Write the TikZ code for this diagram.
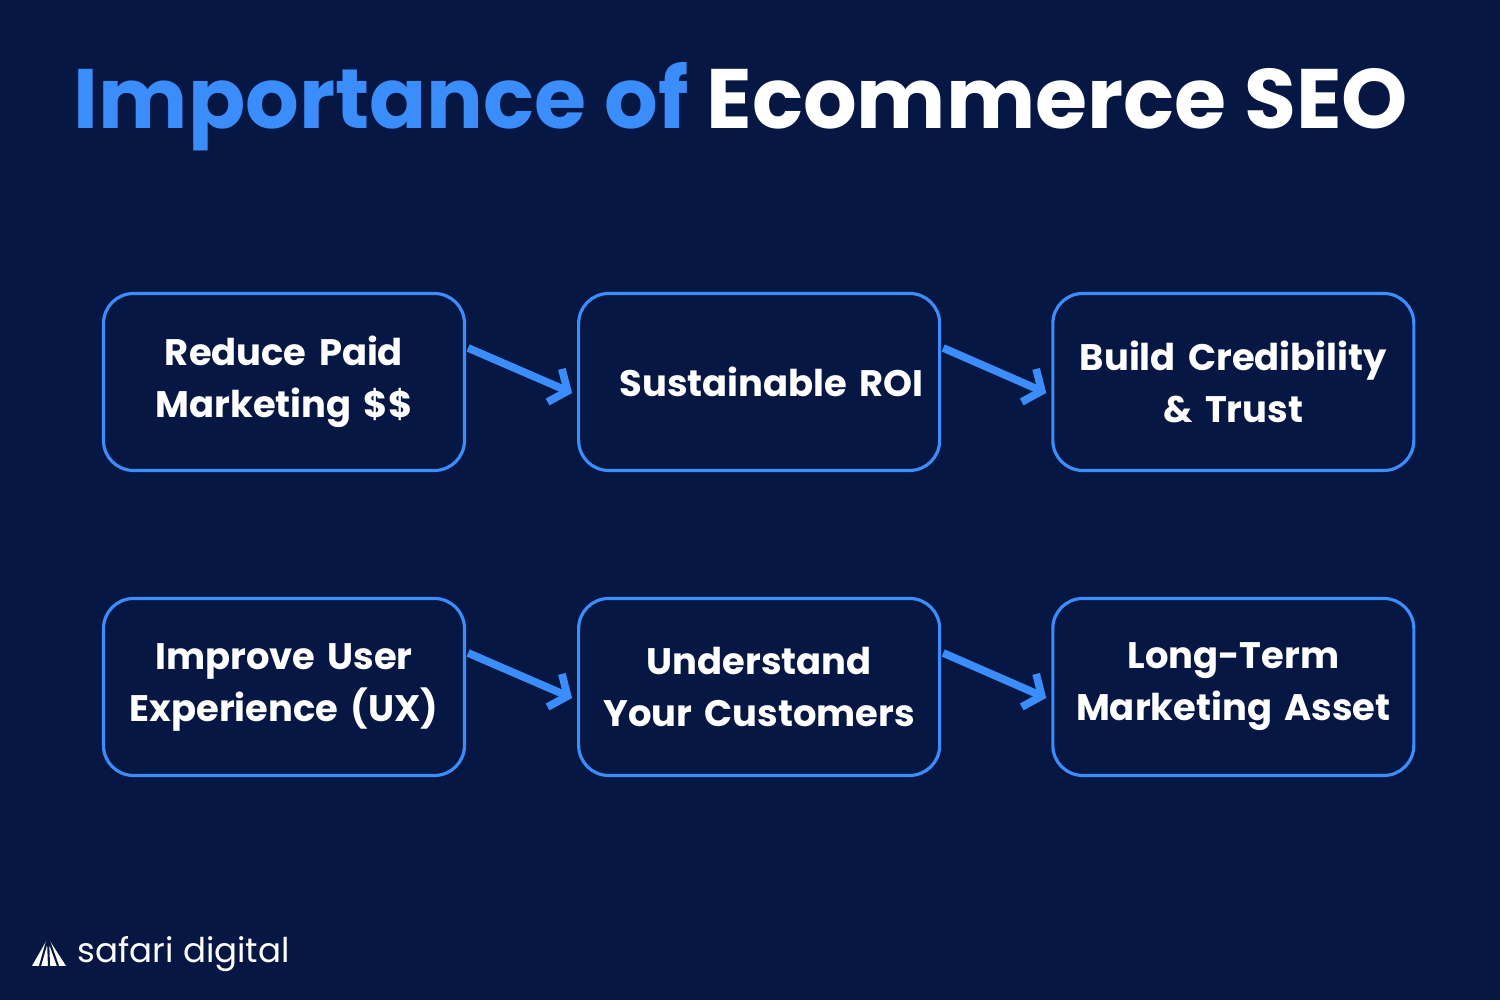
\documentclass[tikz,border=0pt]{standalone}
\usepackage{fontspec}
\setmainfont{Poppins}
\usetikzlibrary{positioning,arrows.meta}
\definecolor{bgnavy}{HTML}{061744}
\definecolor{seoblue}{HTML}{3A8DFA}
\begin{document}
\begin{tikzpicture}[x=1cm,y=1cm,
    seobox/.style={draw=seoblue,line width=0.9pt,rounded corners=0.3cm,minimum width=3.61cm,minimum height=1.77cm,
      text width=3.3cm,align=center,text=white,font={\fontsize{10.5}{14.8}\selectfont\bfseries}},
    seoarrow/.style={draw=seoblue,line width=2.2pt,-{Straight Barb[length=0.14cm,width=0.36cm,line width=2.2pt]}}]
  %background
  \fill[bgnavy] (0,0) rectangle (15,10);
  \useasboundingbox (0,0) rectangle (15,10);
  %title
  \node (title) at (7.41,8.93) {\fontsize{24}{28}\selectfont\bfseries\textcolor{seoblue}{Importance of} \textcolor{white}{Ecommerce SEO}};
  %top row
  \node[seobox] (reduce) at (2.84,6.18) {Reduce Paid\\Marketing \$\$};
  \node[seobox,right=1.11cm of reduce] (roi) {\hspace*{0.25cm}Sustainable ROI};
  \node[seobox,right=1.1cm of roi] (trust) {Build Credibility\\\& Trust};
  %bottom row
  \node[seobox] (ux) at (2.84,3.13) {Improve User\\Experience (UX)};
  \node[seobox,right=1.11cm of ux] (know) {Understand\\Your Customers};
  \node[seobox,right=1.1cm of know] (asset) {Long-Term\\Marketing Asset};
  %arrows
  \draw[seoarrow] ([xshift=0.02cm,yshift=0.34cm]reduce.east) -- ([xshift=-0.05cm,yshift=-0.11cm]roi.west);
  \draw[seoarrow] ([xshift=0.02cm,yshift=0.34cm]roi.east) -- ([xshift=-0.05cm,yshift=-0.11cm]trust.west);
  \draw[seoarrow] ([xshift=0.02cm,yshift=0.34cm]ux.east) -- ([xshift=-0.05cm,yshift=-0.11cm]know.west);
  \draw[seoarrow] ([xshift=0.02cm,yshift=0.34cm]know.east) -- ([xshift=-0.05cm,yshift=-0.11cm]asset.west);
  %logo
  \fill[white] (0.32,0.34) -- (0.48,0.62) -- (0.66,0.34) -- cycle;
  \draw[bgnavy,line width=0.6pt] (0.48,0.62) -- (0.40,0.34) (0.48,0.62) -- (0.49,0.34) (0.48,0.62) -- (0.58,0.34);
  \node[anchor=west,text=white,inner sep=0pt] (brand) at (0.77,0.46) {\fontsize{9.7}{12}\selectfont safari digital};
\end{tikzpicture}
\end{document}
